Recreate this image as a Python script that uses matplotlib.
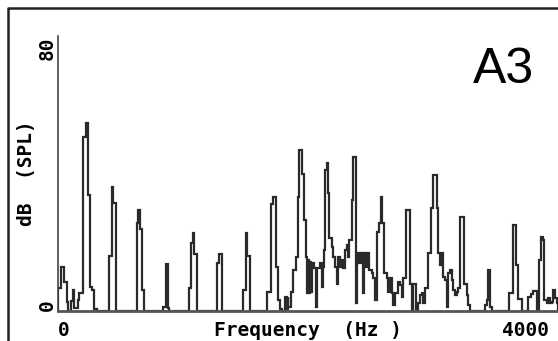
import matplotlib.pyplot as plt
from matplotlib.lines import Line2D
import numpy as np

# spectrum of note A3 (start freq in Hz, level in dB SPL)
step_start_hz = [2, 24, 51, 71, 84, 106, 122, 133, 160, 174, 206, 226, 247, 261, 279, 296, 315,
                 418, 437, 451, 473, 641, 654, 668, 687, 703, 858, 877, 899, 907,
                 1070, 1084, 1097, 1106, 1130, 1293, 1312, 1339,
                 1510, 1529, 1542, 1564, 1705, 1733, 1754, 1774, 1795, 1809, 1822,
                 1849, 1863, 1871, 1876, 1896, 1917, 1939, 1953, 1966, 1988, 2004, 2020,
                 2029, 2037, 2045, 2053, 2061, 2069, 2088, 2099, 2108, 2135, 2148, 2157,
                 2167, 2178, 2189, 2202, 2210, 2230, 2243, 2257, 2270, 2284, 2297, 2311,
                 2324, 2338, 2352, 2365, 2373, 2393, 2406, 2428, 2439, 2455, 2466, 2483,
                 2493, 2509, 2523, 2536, 2556, 2569, 2583, 2596, 2618, 2629, 2642, 2656,
                 2678, 2691, 2705, 2718, 2732, 2745, 2767, 2786, 2800, 2813, 2833, 2868,
                 2881, 2890, 2914, 2930, 2949, 2963, 2976, 2990, 3017, 3036, 3058, 3085,
                 3098, 3112, 3126, 3139, 3153, 3166, 3180, 3194, 3207, 3221, 3234, 3248,
                 3262, 3275, 3310, 3330, 3343, 3359, 3479, 3492, 3500, 3519, 3533,
                 3674, 3710, 3731, 3745, 3764, 3783, 3826, 3851, 3867, 3900,
                 3919, 3935, 3954, 3962, 3981, 3995, 4008, 4027, 4035, 4052, 4066]
step_level_db = [6.7, 12.9, 8.5, 2.7, 0, 2.9, 6.1, 0.9, 3.2, 5.2, 50.7, 54.8, 33.8, 7.1, 6.0, 0.6, 0,
                 16.0, 36.2, 31.3, 0, 25.5, 29.4, 24.0, 6.1, 0, 1.3, 13.7, 1.0, 0,
                 6.6, 19.9, 22.8, 16.6, 0, 14.1, 16.6, 0,
                 6.1, 22.8, 16.0, 0, 5.6, 31.0, 33.3, 12.9, 3.2, 0.5, 0,
                 4.2, 0.5, 4.2, 1.3, 5.6, 11.9, 15.8, 33.3, 46.8, 40.0, 26.5, 15.8,
                 5.1, 14.8, 5.1, 14.4, 5.6, 13.9, 12.4, 1.3, 12.4, 13.9, 7.1, 12.9,
                 17.7, 41.0, 43.0, 34.2, 21.1, 18.7, 15.8, 12.9, 8.0, 15.8, 12.9, 14.8,
                 12.4, 17.7, 19.2, 15.8, 20.7, 32.3, 44.9, 2.2, 16.8, 13.9, 16.8, 5.1,
                 16.8, 12.9, 16.8, 11.9, 11.0, 9.5, 3.2, 23.1, 25.5, 33.3, 25.5, 11.0,
                 9.5, 5.6, 9.5, 5.1, 1.7, 5.1, 8.5, 7.6, 4.2, 9.5, 29.4, 8.0,
                 0.3, 8.0, 0.3, 2.2, 4.7, 5.1, 2.2, 6.6, 16.8, 29.9, 39.6, 29.9,
                 16.8, 13.4, 16.8, 10.0, 9.0, 1.3, 11.0, 11.9, 9.0, 6.1, 4.7, 5.6,
                 6.6, 27.4, 8.0, 4.7, 1.7, 0, 1.7, 3.2, 11.9, 1.3, 0,
                 5.3, 25.0, 13.4, 3.4, 3.4, 0, 4.2, 4.9, 5.8, 0,
                 14.8, 21.6, 20.7, 3.2, 2.2, 3.7, 2.2, 2.7, 6.1, 3.7, 2.2]
spectrum_end_hz = 4075

x_ticks = [0, 4000]
y_ticks = [0, 80]

mono = 'DejaVu Sans Mono'

fig = plt.figure(figsize=(5.58, 3.41), dpi=100)
ax = fig.add_axes([58 / 558, 30 / 341, 500 / 558, 275 / 341])

edges = np.array(step_start_hz + [spectrum_end_hz])
ax.stairs(step_level_db, edges, baseline=0, color='#2a2a2a', lw=1.6)

ax.set_xlim(0, 4073)
ax.set_ylim(0, 80)

for s in ['top', 'right']:
    ax.spines[s].set_visible(False)
ax.spines['left'].set_color('#444444')
ax.spines['left'].set_linewidth(1.2)
ax.spines['bottom'].set_color('#555555')
ax.spines['bottom'].set_linewidth(2)

ax.set_xticks(x_ticks)
ax.set_xticklabels([str(v) for v in x_ticks], family=mono, fontweight='bold', fontsize=14)
ax.set_yticks(y_ticks)
ax.set_yticklabels([str(v) for v in y_ticks], family=mono, fontweight='bold', fontsize=14,
                   rotation=90)
ax.tick_params(axis='both', length=0)
ax.tick_params(axis='x', pad=7)
ax.tick_params(axis='y', pad=1)

xl = ax.get_xticklabels()
xl[0].set_ha('left')
xl[1].set_ha('right')
yl = ax.get_yticklabels()
yl[0].set_va('bottom')
yl[1].set_va('top')

ax.set_xlabel('Frequency  (Hz )', family=mono, fontweight='bold', fontsize=14)
ax.xaxis.set_label_coords(0.5, -0.035)
ax.set_ylabel('dB  (SPL)', family=mono, fontweight='bold', fontsize=14)
ax.yaxis.set_label_coords(-0.044, 0.5)

fig.text(473 / 558, 1 - 83 / 341, 'A3', family='Liberation Sans', fontsize=36, va='baseline')

# frame of the original panel, cut off on the right and bottom
fig.add_artist(Line2D([7.5 / 558, 7.5 / 558, 1.05], [-0.1, 1 - 8 / 341, 1 - 8 / 341],
                      transform=fig.transFigure, color='#222222', lw=1.8))

fig.savefig('out.png', dpi=100)
